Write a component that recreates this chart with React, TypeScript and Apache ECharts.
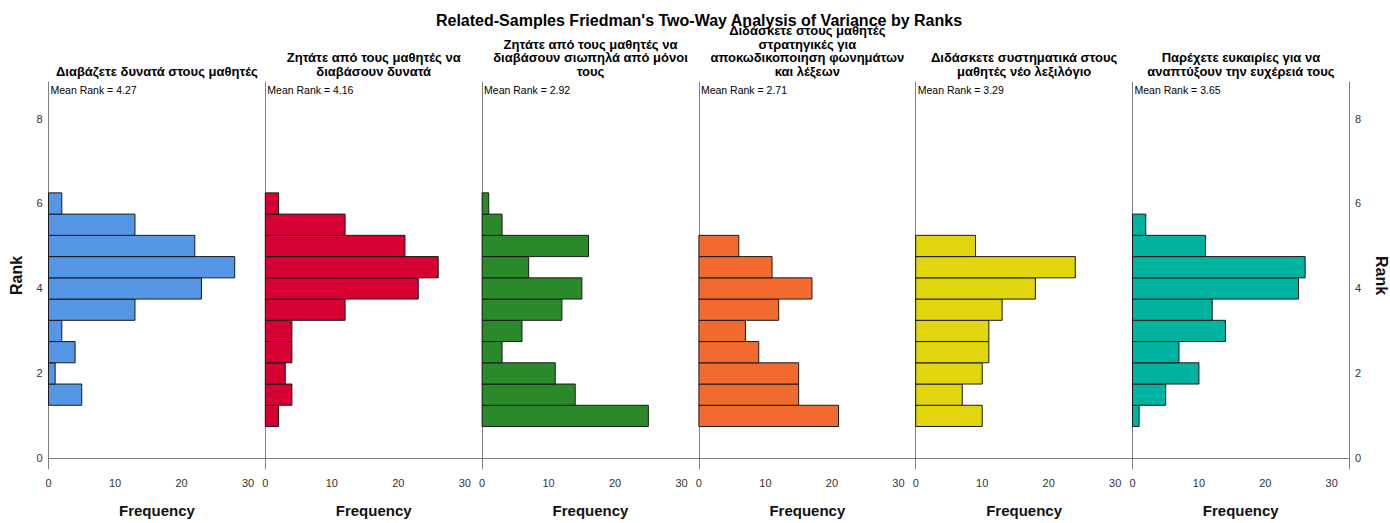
import React, { useEffect, useRef } from "react";
import * as echarts from "echarts";

const mainTitle = "Related-Samples Friedman's Two-Way Analysis of Variance by Ranks";
const panelTitles = [
  "Διαβάζετε δυνατά στους μαθητές",
  "Ζητάτε από τους μαθητές να\nδιαβάσουν δυνατά",
  "Ζητάτε από τους μαθητές να\nδιαβάσουν σιωπηλά από μόνοι\nτους",
  "Διδάσκετε στους μαθητές\nστρατηγικές για\nαποκωδικοποιηση φωνημάτων\nκαι λέξεων",
  "Διδάσκετε συστηματικά στους\nμαθητές νέο λεξιλόγιο",
  "Παρέχετε ευκαιρίες για να\nαναπτύξουν την ευχέρειά τους",
];
const meanRanks = ["4.27", "4.16", "2.92", "2.71", "3.29", "3.65"];
const colors = ["#5596E6", "#D60032", "#2A8A2A", "#F26A2E", "#E1D60E", "#00B3A0"];

// rank bin centres (bin width 0.5)
const ranks = [1, 1.5, 2, 2.5, 3, 3.5, 4, 4.5, 5, 5.5, 6];
const binWidth = 0.5;
const freq1 = [0, 5, 1, 4, 2, 13, 23, 28, 22, 13, 2];
const freq2 = [2, 4, 3, 4, 4, 12, 23, 26, 21, 12, 2];
const freq3 = [25, 14, 11, 3, 6, 12, 15, 7, 16, 3, 1];
const freq4 = [21, 15, 15, 9, 7, 12, 17, 11, 6, 0, 0];
const freq5 = [10, 7, 10, 11, 11, 13, 18, 24, 9, 0, 0];
const freq6 = [1, 5, 10, 7, 14, 12, 25, 26, 11, 2, 0];
const freqs = [freq1, freq2, freq3, freq4, freq5, freq6];

const rankTicks = [0, 2, 4, 6, 8];
const freqTicks = [0, 10, 20, 30];

const FONT = "Liberation Sans, Arial, sans-serif";

export default function App() {
  const ref = useRef<HTMLDivElement>(null);
  useEffect(() => {
    if (!ref.current) return;
    const chart = echarts.init(ref.current, undefined, { renderer: "svg" });
    const left0 = 48.5;
    const pw = 216.8;
    const top = 82;
    const h = 392;
    const axisColor = "#808080";
    const labelStyle = { color: "#333", fontSize: 11, fontFamily: FONT };

    const grids = freqs.map((_, i) => ({ left: left0 + i * pw, top, width: pw, height: h }));
    const xAxes = freqs.map((_, i) => ({
      gridIndex: i,
      type: "value",
      min: 0,
      max: 32.6,
      interval: 10,
      axisLine: { show: true, lineStyle: { color: axisColor, width: 1 } },
      axisTick: { show: false },
      splitLine: { show: false },
      axisLabel: {
        ...labelStyle,
        margin: 8,
        customValues: freqTicks,
        formatter: (v: number) => (freqTicks.includes(v) ? String(v) : ""),
      },
      name: "Frequency",
      nameLocation: "middle",
      nameGap: 34,
      nameTextStyle: { fontSize: 15, fontWeight: "bold", color: "#111", fontFamily: FONT },
    }));
    const yBase = {
      type: "value",
      min: -0.25,
      max: 8.86,
      axisTick: { show: false },
      splitLine: { show: false },
      axisLine: { show: true, onZero: false, lineStyle: { color: axisColor, width: 1 } },
    };
    const yAxes: any[] = freqs.map((_, i) => ({
      ...yBase,
      gridIndex: i,
      position: "left",
      axisLabel: {
        show: i === 0,
        ...labelStyle,
        margin: 6,
        customValues: rankTicks,
        formatter: (v: number) => (rankTicks.includes(v) ? String(v) : ""),
      },
      name: i === 0 ? "Rank" : "",
      nameLocation: "middle",
      nameGap: 24,
      nameTextStyle: { fontSize: 16, fontWeight: "bold", color: "#111", fontFamily: FONT },
    }));
    yAxes.push({
      ...yBase,
      gridIndex: 5,
      position: "right",
      axisLabel: {
        ...labelStyle,
        margin: 6,
        customValues: rankTicks,
        formatter: (v: number) => (rankTicks.includes(v) ? String(v) : ""),
      },
      name: "Rank",
      nameLocation: "middle",
      nameRotate: -90,
      nameGap: 24,
      nameTextStyle: { fontSize: 16, fontWeight: "bold", color: "#111", fontFamily: FONT },
    });

    const series = freqs.map((f, i) => ({
      type: "custom",
      xAxisIndex: i,
      yAxisIndex: i,
      encode: { x: 1, y: 0 },
      data: ranks.map((r, k) => [r, f[k]]).filter((d) => d[1] > 0),
      renderItem: (params: any, api: any) => {
        const r = api.value(0);
        const v = api.value(1);
        const p0 = api.coord([0, r + binWidth / 2]);
        const p1 = api.coord([v, r - binWidth / 2]);
        return {
          type: "rect",
          shape: { x: p0[0], y: p0[1], width: p1[0] - p0[0], height: p1[1] - p0[1] },
          style: { fill: colors[i], stroke: "#1a1a1a", lineWidth: 1 },
        };
      },
    }));

    const graphics: any[] = [
      {
        type: "text",
        x: 699,
        y: 20,
        style: {
          text: mainTitle,
          fontSize: 16,
          fontWeight: "bold",
          fontFamily: FONT,
          fill: "#000",
          align: "center",
          verticalAlign: "middle",
        },
        z: 10,
      },
    ];
    panelTitles.forEach((t, i) => {
      graphics.push({
        type: "text",
        x: left0 + i * pw + pw / 2,
        y: 78,
        style: {
          text: t,
          fontSize: 13,
          fontWeight: "bold",
          fontFamily: FONT,
          fill: "#000",
          align: "center",
          verticalAlign: "bottom",
          lineHeight: 13.5,
        },
        z: 10,
      });
      graphics.push({
        type: "text",
        x: left0 + i * pw + 2,
        y: 90,
        style: {
          text: "Mean Rank = " + meanRanks[i],
          fontSize: 10.5,
          fontFamily: FONT,
          fill: "#000",
          align: "left",
          verticalAlign: "middle",
        },
        z: 10,
      });
    });

    chart.setOption({
      animation: false,
      backgroundColor: "#fff",
      grid: grids,
      xAxis: xAxes,
      yAxis: yAxes,
      series,
      graphic: graphics,
    });
    return () => chart.dispose();
  }, []);
  return (
    <div
      ref={ref}
      style={{ position: "absolute", left: 0, top: 0, width: 1390, height: 523 }}
    />
  );
}
